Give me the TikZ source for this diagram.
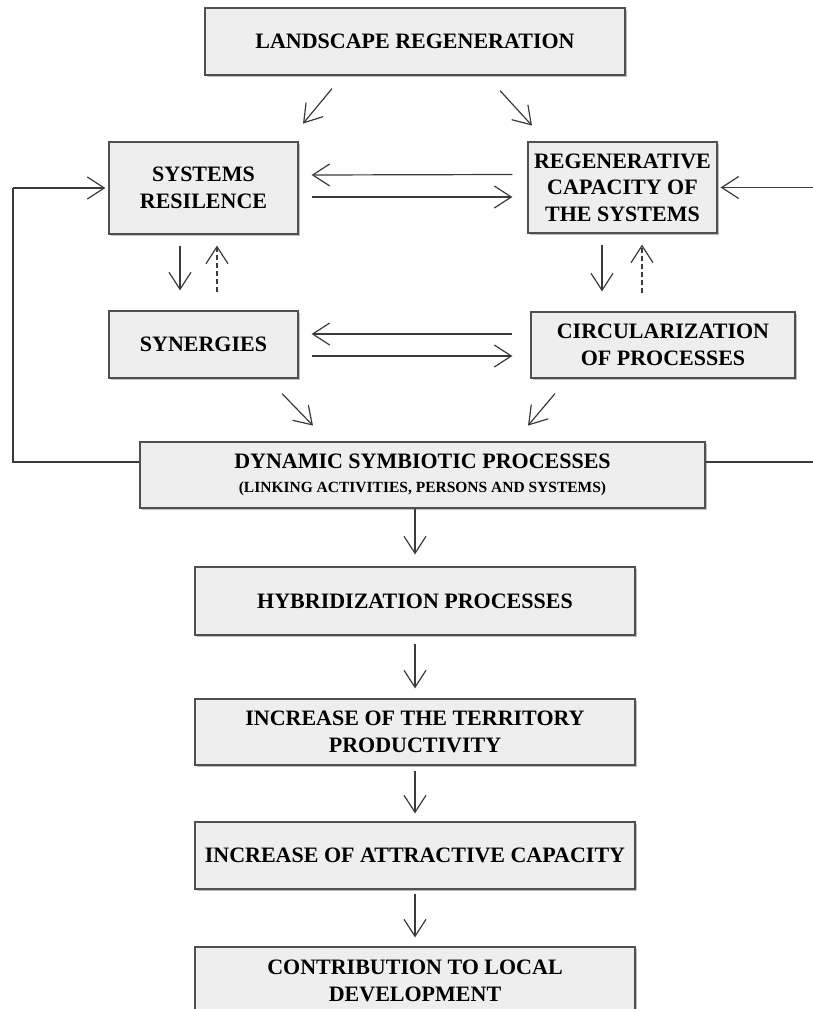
\documentclass[tikz,border=0pt]{standalone}
\usepackage{fontspec}
\setmainfont{Liberation Serif}
\usetikzlibrary{arrows.meta,shadows}
\definecolor{boxfill}{HTML}{EEEEEE}
\definecolor{boxline}{HTML}{505050}
\definecolor{arrowline}{HTML}{3A3A3A}
\tikzset{
  box/.style={draw=boxline, fill=boxfill, line width=1.2pt, inner sep=0pt,
    align=center, font=\bfseries\fontsize{22}{26.5}\selectfont,
    drop shadow={shadow xshift=1.8pt, shadow yshift=-1.8pt, fill=black, opacity=0.25}},
  arr/.style={draw=arrowline, line width=1.2pt,
    -{Straight Barb[length=17pt,width=22pt,line width=1.2pt]}},
  dasharr/.style={arr, dash pattern=on 5pt off 3pt},
  feed/.style={draw=arrowline, line width=1.2pt},
}
\begin{document}
\begin{tikzpicture}[x=1pt, y=-1pt]
\useasboundingbox (0,0) rectangle (812,1009);

% boxes
\node[box, minimum width=420pt, minimum height=67pt] (lr) at (415,41.5) {LANDSCAPE REGENERATION};
\node[box, minimum width=189pt, minimum height=92pt] (sr) at (203.5,188) {SYSTEMS\\RESILENCE};
\node[box, minimum width=189pt, minimum height=91pt] (reg) at (622.5,187.5) {REGENERATIVE\\CAPACITY OF\\THE SYSTEMS};
\node[box, minimum width=189pt, minimum height=67pt] (syn) at (203.5,344.5) {SYNERGIES};
\node[box, minimum width=264pt, minimum height=66pt] (circ) at (663,345) {CIRCULARIZATION\\OF PROCESSES};
\node[box, minimum width=565pt, minimum height=66pt, font=\bfseries\fontsize{22}{23.5}\selectfont] (dyn) at (422.5,475)
  {DYNAMIC SYMBIOTIC PROCESSES\\[1pt]{\fontsize{15.5}{17}\selectfont (LINKING ACTIVITIES, PERSONS AND SYSTEMS)}};
\node[box, minimum width=440pt, minimum height=68pt] (hyb) at (415,601) {HYBRIDIZATION PROCESSES};
\node[box, minimum width=440pt, minimum height=66pt] (itp) at (415,732) {INCREASE OF THE TERRITORY\\PRODUCTIVITY};
\node[box, minimum width=440pt, minimum height=67pt] (iac) at (415,855.5) {INCREASE OF ATTRACTIVE CAPACITY};
\node[box, minimum width=440pt, minimum height=68pt] (cld) at (415,981) {CONTRIBUTION TO LOCAL\\DEVELOPMENT};

% landscape regeneration feeds both systems
\draw[arr] ([xshift=-83pt,yshift=-13pt]lr.south) -- ([xshift=-112pt,yshift=-48pt]lr.south);
\draw[arr] ([xshift=85pt,yshift=-15pt]lr.south) -- ([xshift=117pt,yshift=-50pt]lr.south);

% exchanges between the two systems
\draw[arr] ([yshift=13pt,xshift=-15pt]reg.west) -- ([yshift=13pt,xshift=13pt]sr.east);
\draw[arr] ([yshift=-9pt,xshift=13pt]sr.east) -- ([yshift=-9.5pt,xshift=-15pt]reg.west);

% vertical links, solid down and dashed up
\draw[arr] ([xshift=-23.5pt,yshift=-11pt]sr.south) -- ([xshift=-23.5pt,yshift=20pt]sr.south |- syn.north);
\draw[dasharr] ([xshift=13.5pt,yshift=18pt]sr.south |- syn.north) -- ([xshift=13.5pt,yshift=-11pt]sr.south);
\draw[arr] ([xshift=-20.5pt,yshift=-11pt]reg.south) -- ([xshift=-20.5pt,yshift=20pt]reg.south |- circ.north);
\draw[dasharr] ([xshift=19.5pt,yshift=18pt]reg.south |- circ.north) -- ([xshift=19.5pt,yshift=-11pt]reg.south);

% exchanges between synergies and circularization
\draw[arr] ([yshift=11pt,xshift=-18pt]circ.west) -- ([yshift=10.5pt,xshift=13pt]syn.east);
\draw[arr] ([yshift=-11.5pt,xshift=13pt]syn.east) -- ([yshift=-11pt,xshift=-18pt]circ.west);

% convergence into dynamic symbiotic processes
\draw[arr] ([xshift=78.5pt,yshift=-15pt]syn.south) -- ([xshift=109.5pt,yshift=-47pt]syn.south);
\draw[arr] ([xshift=-108pt,yshift=-15pt]circ.south) -- ([xshift=-135pt,yshift=-47pt]circ.south);

% feedback loops
\coordinate (fl) at (13,462);
\coordinate (fr) at (816,462);
\draw[feed] (dyn.west |- fl) -- (fl) -- (fl |- sr.west);
\draw[arr] (fl |- sr.west) -- ([xshift=-3pt]sr.west);
\draw[feed] (dyn.east |- fr) -- (fr) -- (fr |- reg.west);
\draw[arr] (fr |- reg.west) -- ([xshift=3pt]reg.east);

% main chain
\draw[arr] ([xshift=-7.5pt]dyn.south) -- ([yshift=12pt]hyb.north);
\draw[arr] ([yshift=-8pt]hyb.south) -- ([yshift=10pt]itp.north);
\draw[arr] ([yshift=-5pt]itp.south) -- ([yshift=8pt]iac.north);
\draw[arr] ([yshift=-4pt]iac.south) -- ([yshift=9pt]cld.north);
\end{tikzpicture}
\end{document}
